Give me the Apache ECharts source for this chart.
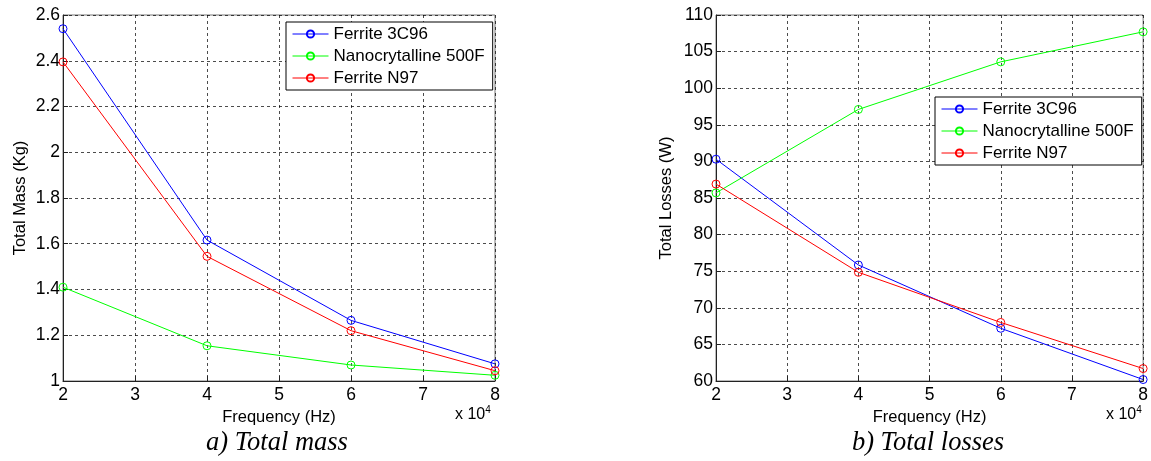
<!DOCTYPE html>
<html>
<head>
<meta charset="utf-8">
<script src="https://cdn.jsdelivr.net/npm/echarts@6/dist/echarts.min.js"></script>
<style>
html,body{margin:0;padding:0;background:#fff;}
#chart{width:1151px;height:461px;}
</style>
</head>
<body>
<div id="chart"></div>
<script>
// Data
const frequencyHz = [20000, 40000, 60000, 80000];
const seriesNames = ['Ferrite 3C96', 'Nanocrytalline 500F', 'Ferrite N97'];
const seriesColors = ['#0000ff', '#00ff00', '#ff0000'];
const massFerrite3C96 = [2.54, 1.616, 1.265, 1.075];
const massNano500F = [1.41, 1.154, 1.07, 1.025];
const massFerriteN97 = [2.395, 1.545, 1.22, 1.045];
const lossFerrite3C96 = [90.3, 75.85, 67.2, 60.2];
const lossNano500F = [85.7, 97.1, 103.6, 107.7];
const lossFerriteN97 = [86.9, 74.85, 68.0, 61.7];
const massTicks = {min: 1, max: 2.6, step: 0.2};
const lossTicks = {min: 60, max: 110, step: 5};
const captions = ['a) Total mass', 'b) Total losses'];

const FONT = '"Liberation Sans", Arial, sans-serif';
const chart = echarts.init(document.getElementById('chart'), null, {renderer: 'canvas'});

function pairs(xs, ys){ return xs.map((x,i)=>[x, ys[i]]); }

function xAxisCfg(gi){
  return {
    type: 'value', gridIndex: gi, min: 20000, max: 80000, interval: 10000,
    name: 'Frequency (Hz)', nameLocation: 'middle', nameGap: 22,
    nameTextStyle: {fontFamily: FONT, fontSize: 16.5, color: '#000'},
    axisLine: {show: true, lineStyle: {color: '#222', width: 1}},
    axisTick: {show: true, inside: true, length: 5, lineStyle: {color: '#222'}},
    axisLabel: {fontFamily: FONT, fontSize: 17.5, color: '#000', margin: 5, formatter: v => String(v/10000)},
    splitLine: {show: true, lineStyle: {color: '#000', type: [3,3], width: 1, opacity: 0.7}}
  };
}
function yAxisCfg(gi, t, name){
  return {
    type: 'value', gridIndex: gi, min: t.min, max: t.max, interval: t.step,
    name: name, nameLocation: 'middle', nameGap: gi === 0 ? 34 : 41,
    nameTextStyle: {fontFamily: FONT, fontSize: 16.5, color: '#000'},
    axisLine: {show: true, lineStyle: {color: '#222', width: 1}},
    axisTick: {show: true, inside: true, length: 5, lineStyle: {color: '#222'}},
    axisLabel: {fontFamily: FONT, fontSize: 17.5, color: '#000', margin: 3,
      formatter: v => String(Math.round(v*1000)/1000)},
    splitLine: {show: true, lineStyle: {color: '#000', type: [3,3], width: 1, opacity: 0.7}}
  };
}
function lineSeries(name, color, gi, ys){
  return {
    name: name, type: 'line', xAxisIndex: gi, yAxisIndex: gi,
    data: pairs(frequencyHz, ys),
    symbol: 'circle', symbolSize: 8, showSymbol: true,
    lineStyle: {color: color, width: 1},
    itemStyle: {color: 'rgba(255,255,255,0)', borderColor: color, borderWidth: 1},
    emphasis: {disabled: true},
    animation: false, z: 3
  };
}
function legendCfg(left, top){
  return {
    data: seriesNames, left: left, top: top, orient: 'vertical',
    backgroundColor: '#fff', borderColor: '#000', borderWidth: 1,
    padding: [3, 8, 3, 6], itemGap: 4, itemWidth: 36, itemHeight: 9,
    textStyle: {fontFamily: FONT, fontSize: 17, color: '#000', lineHeight: 18},
    lineStyle: {width: 1},
    selectedMode: false
  };
}

const option = {
  backgroundColor: '#fff',
  animation: false,
  grid: [
    {left: 63, right: 656, top: 15, bottom: 80, show: true, borderColor: '#777', borderWidth: 1, backgroundColor: 'transparent'},
    {left: 716, right: 4, top: 15, bottom: 80, show: true, borderColor: '#777', borderWidth: 1, backgroundColor: 'transparent'}
  ],
  xAxis: [xAxisCfg(0), xAxisCfg(1)],
  yAxis: [yAxisCfg(0, massTicks, 'Total Mass (Kg)'), yAxisCfg(1, lossTicks, 'Total Losses (W)')],
  legend: [legendCfg(286, 22), legendCfg(935, 97)],
  series: [
    lineSeries(seriesNames[0], seriesColors[0], 0, massFerrite3C96),
    lineSeries(seriesNames[1], seriesColors[1], 0, massNano500F),
    lineSeries(seriesNames[2], seriesColors[2], 0, massFerriteN97),
    lineSeries(seriesNames[0], seriesColors[0], 1, lossFerrite3C96),
    lineSeries(seriesNames[1], seriesColors[1], 1, lossNano500F),
    lineSeries(seriesNames[2], seriesColors[2], 1, lossFerriteN97)
  ],
  graphic: [
    {type: 'text', left: 455, top: 405, style: {text: 'x 10{s|4}', rich: {s: {fontSize: 10, verticalAlign: 'top', padding: [0,0,9,0], fontFamily: FONT}}, font: '16px ' + FONT, fill: '#000'}},
    {type: 'text', left: 1106, top: 405, style: {text: 'x 10{s|4}', rich: {s: {fontSize: 10, verticalAlign: 'top', padding: [0,0,9,0], fontFamily: FONT}}, font: '16px ' + FONT, fill: '#000'}},
    {type: 'text', x: 277, y: 443, style: {text: captions[0], font: 'italic 26.5px "Liberation Serif", "Times New Roman", serif', fill: '#000', align: 'center', verticalAlign: 'middle'}},
    {type: 'text', x: 928, y: 443, style: {text: captions[1], font: 'italic 26.5px "Liberation Serif", "Times New Roman", serif', fill: '#000', align: 'center', verticalAlign: 'middle'}}
  ]
};
chart.setOption(option);
</script>
</body>
</html>
